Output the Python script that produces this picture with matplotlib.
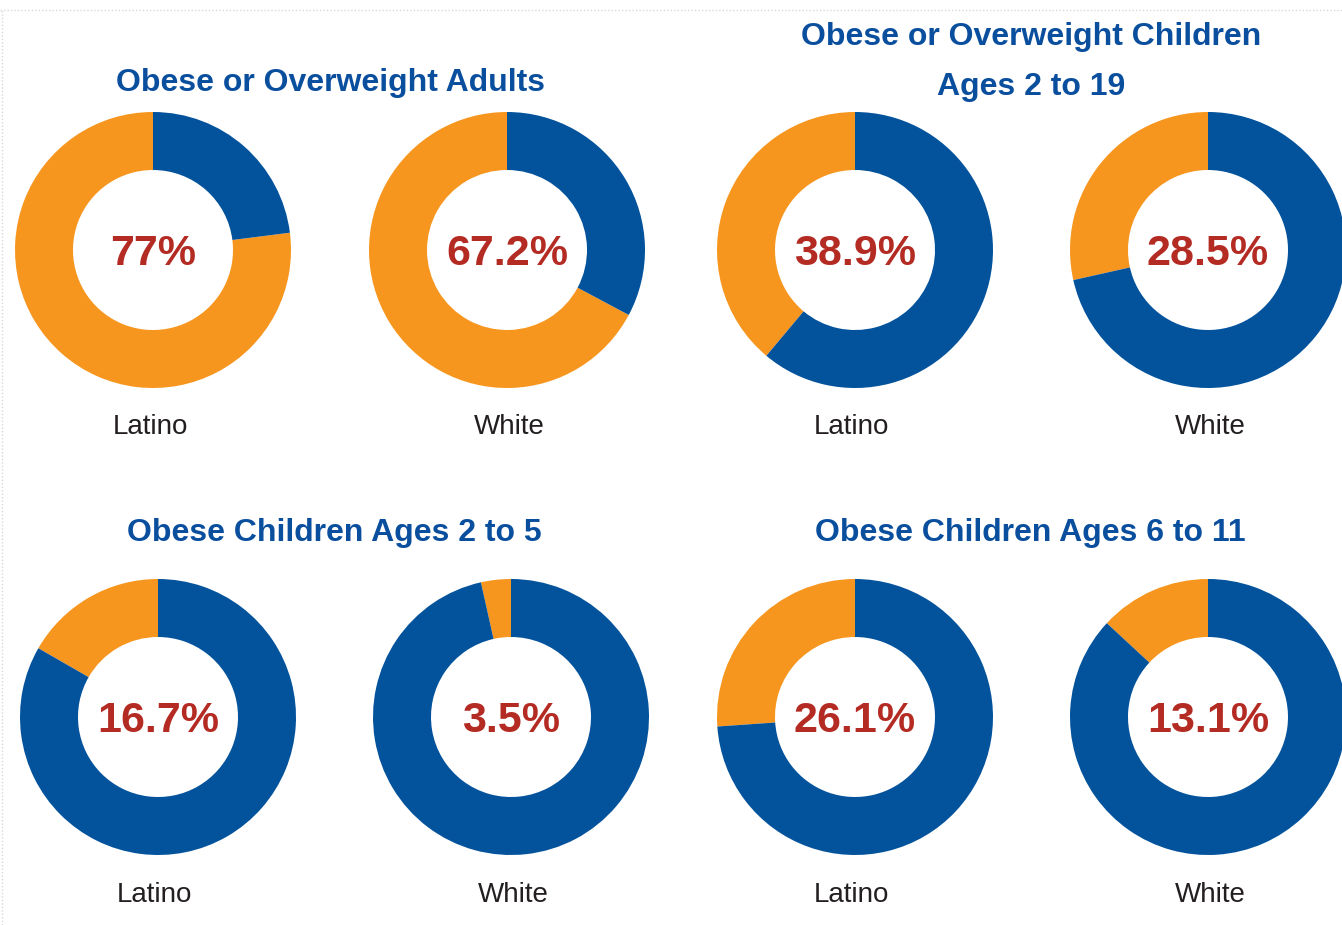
import matplotlib
matplotlib.use("Agg")
import matplotlib.pyplot as plt
from matplotlib.lines import Line2D

# ---- data ----
groups = ["Latino", "White"]
titles = ["Obese or Overweight Adults",
          "Obese or Overweight Children\nAges 2 to 19",
          "Obese Children Ages 2 to 5",
          "Obese Children Ages 6 to 11"]
adults = [77.0, 67.2]
children_2_19 = [38.9, 28.5]
children_2_5 = [16.7, 3.5]
children_6_11 = [26.1, 13.1]
pct_labels = [["77%", "67.2%"], ["38.9%", "28.5%"], ["16.7%", "3.5%"], ["26.1%", "13.1%"]]
panels = [adults, children_2_19, children_2_5, children_6_11]

# ---- style ----
ORANGE = "#F7961F"
BLUE = "#03529C"
RED = "#B42B23"
TITLE_BLUE = "#0A4E9E"
W, H = 1342, 925
DPI = 100
plt.rcParams['font.family'] = ['Liberation Sans', 'DejaVu Sans']

fig = plt.figure(figsize=(W / DPI, H / DPI), dpi=DPI)
fig.patch.set_facecolor("white")

R = 138
# donut centers (pixels, from top-left) per panel
centers = [[(153, 250), (507, 250)],
           [(855, 250), (1208, 250)],
           [(158, 717), (511, 717)],
           [(855, 717), (1208, 717)]]
title_pos = [(330, 83), (1031, 62), (334, 533), (1030, 533)]
label_pos = [[(150, 427), (509, 427)],
             [(851, 427), (1210, 427)],
             [(154, 895), (513, 895)],
             [(851, 895), (1210, 895)]]

def fx(x):
    return x / W

def fy(y):
    return 1 - y / H

for p, vals in enumerate(panels):
    for g, v in enumerate(vals):
        cx, cy = centers[p][g]
        ax = fig.add_axes([fx(cx - R), fy(cy + R), 2 * R / W, 2 * R / H])
        ax.pie([v, 100 - v], colors=[ORANGE, BLUE], startangle=90,
               counterclock=True, radius=1.0,
               wedgeprops=dict(width=1 - 80 / 138, linewidth=0))
        ax.set_xlim(-1, 1)
        ax.set_ylim(-1, 1)
        ax.set_aspect("equal")
        ax.axis("off")
        ax.text(0, -4 / R, pct_labels[p][g], ha="center", va="center",
                fontsize=31, fontweight="heavy", color=RED)
        lx, ly = label_pos[p][g]
        fig.text(fx(lx), fy(ly), groups[g], ha="center", va="center",
                 fontsize=20, color="#231F20")
    tx, ty = title_pos[p]
    fig.text(fx(tx), fy(ty), titles[p], ha="center", va="center",
             fontsize=23, fontweight="bold", color=TITLE_BLUE,
             linespacing=1.9)

# faint dotted frame edges
fig.add_artist(Line2D([0, 1], [fy(10), fy(10)], transform=fig.transFigure,
                      color="#D9D9D9", linestyle=(0, (1, 1.5)), linewidth=1))
fig.add_artist(Line2D([fx(2), fx(2)], [0, fy(10)], transform=fig.transFigure,
                      color="#D9D9D9", linestyle=(0, (1, 1.5)), linewidth=1))

fig.savefig("out.png", dpi=DPI, facecolor="white")
